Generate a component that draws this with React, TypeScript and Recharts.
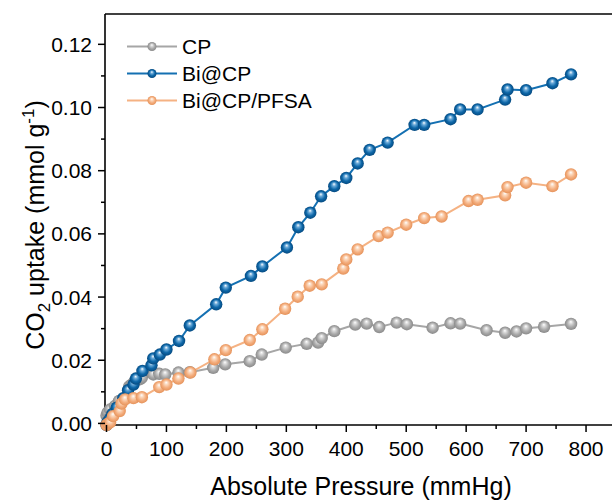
import React from "react";
import { LineChart, Line, XAxis, YAxis, Legend, ReferenceLine } from "recharts";

// pressure (mmHg) / uptake (mmol g-1)
const cpPressure = [0, 2, 6, 14, 21, 38, 42, 47, 56, 59, 78, 88, 98, 120, 139, 178, 198, 239, 259, 299, 334, 353, 359, 380, 415, 434, 455, 484, 501, 544, 574, 590, 634, 665, 684, 700, 730, 775];
const cpUptake = [0.0025, 0.0035, 0.0044, 0.0055, 0.0071, 0.0117, 0.0123, 0.0132, 0.014, 0.0145, 0.0155, 0.0157, 0.0155, 0.0161, 0.0162, 0.0176, 0.0187, 0.0197, 0.0218, 0.024, 0.0252, 0.0256, 0.027, 0.0292, 0.0313, 0.0316, 0.0305, 0.0319, 0.0314, 0.0303, 0.0317, 0.0316, 0.0295, 0.0287, 0.0291, 0.0301, 0.0306, 0.0315];

const biPressure = [0, 2, 6, 10, 17, 28, 36, 45, 49, 60, 75, 78, 89, 100, 121, 139, 183, 199, 241, 260, 301, 320, 340, 358, 380, 400, 419, 439, 469, 514, 530, 574, 590, 619, 665, 669, 700, 744, 775];
const biUptake = [-0.0005, 0.0005, 0.0015, 0.003, 0.005, 0.008, 0.0105, 0.0123, 0.0142, 0.0166, 0.0184, 0.0206, 0.0218, 0.0234, 0.0261, 0.031, 0.0377, 0.043, 0.0467, 0.0497, 0.0557, 0.0621, 0.0667, 0.0719, 0.0751, 0.0777, 0.0823, 0.0866, 0.0889, 0.0945, 0.0945, 0.0963, 0.0994, 0.0994, 0.1025, 0.1057, 0.1055, 0.1077, 0.1105];

const pfsaPressure = [0, 3, 6, 11, 22, 25, 31, 45, 59, 88, 100, 120, 140, 180, 199, 239, 260, 298, 319, 339, 359, 395, 400, 419, 454, 469, 500, 530, 559, 604, 619, 665, 669, 700, 744, 775];
const pfsaUptake = [-0.0005, 0, 0.0003, 0.0023, 0.0039, 0.0063, 0.0076, 0.008, 0.0083, 0.0115, 0.0123, 0.0142, 0.0161, 0.0203, 0.0232, 0.0264, 0.0298, 0.0363, 0.0401, 0.0436, 0.044, 0.049, 0.0519, 0.0551, 0.0593, 0.0604, 0.0629, 0.065, 0.0655, 0.0704, 0.0708, 0.0722, 0.0748, 0.0762, 0.0751, 0.0788];

const xTicks = [0, 50, 100, 150, 200, 250, 300, 350, 400, 450, 500, 550, 600, 650, 700, 750, 800];
const yTicks = [0, 0.01, 0.02, 0.03, 0.04, 0.05, 0.06, 0.07, 0.08, 0.09, 0.1, 0.11, 0.12];
const Y_TOP = 0.1296;

const FONT = "'Liberation Sans', Arial, sans-serif";

const toPoints = (xs: number[], ys: number[]) => xs.map((x, i) => ({ x, y: ys[i] }));

const series = [
  { name: "CP", data: toPoints(cpPressure, cpUptake), color: "#a6a6a6", grad: "ballGray" },
  { name: "Bi@CP", data: toPoints(biPressure, biUptake), color: "#1470b2", grad: "ballBlue" },
  { name: "Bi@CP/PFSA", data: toPoints(pfsaPressure, pfsaUptake), color: "#f5b283", grad: "ballOrange" },
];

const gradients = [
  { id: "ballGray", stops: ["#ffffff", "#d6d6d6", "#a8a8a8", "#8a8a8a"] },
  { id: "ballBlue", stops: ["#ffffff", "#6aa9d8", "#0d67a8", "#064a80"] },
  { id: "ballOrange", stops: ["#ffffff", "#fbd8bd", "#f4ae7e", "#e5925a"] },
];

const ball = (grad: string, r: number) => (props: any) => {
  const { cx, cy, index } = props;
  if (cx == null || cy == null) return <g key={index} />;
  return <circle key={index} cx={cx} cy={cy} r={r} fill={`url(#${grad})`} />;
};

const XTick = (props: any) => {
  const { x, y, payload } = props;
  const v = payload.value;
  const major = v % 100 === 0;
  return (
    <g>
      <line x1={x} x2={x} y1={y} y2={y + (major ? 7 : 4)} stroke="#000" strokeWidth={1.5} />
      {major && (
        <text x={x} y={y + 31} textAnchor="middle" fontSize={21} fontFamily={FONT} fill="#000">
          {v}
        </text>
      )}
    </g>
  );
};

const YTick = (props: any) => {
  const { x, y, payload } = props;
  const v = payload.value;
  const major = Math.round(v * 100) % 2 === 0;
  return (
    <g>
      <line x1={x - (major ? 7 : 4)} x2={x} y1={y} y2={y} stroke="#000" strokeWidth={1.5} />
      {major && (
        <text x={x - 13} y={y + 7.5} textAnchor="end" fontSize={21} fontFamily={FONT} fill="#000">
          {v.toFixed(2)}
        </text>
      )}
    </g>
  );
};

const renderLegend = () => (
  <div style={{ fontFamily: FONT, fontSize: 21, color: "#000" }}>
    {series.map((s) => (
      <div key={s.name} style={{ display: "flex", alignItems: "center", height: 27 }}>
        <svg width={56} height={27} style={{ display: "block" }}>
          <line x1={2} x2={52} y1={13.5} y2={13.5} stroke={s.color} strokeWidth={2} />
          <circle cx={27} cy={13.5} r={4.5} fill={`url(#${s.grad})`} />
        </svg>
        <span style={{ marginLeft: 1, lineHeight: "27px" }}>{s.name}</span>
      </div>
    ))}
  </div>
);

export default function App() {
  return (
    <div style={{ position: "absolute", left: 0, top: 0, width: 612, height: 503, background: "#fff" }}>
      <svg width={0} height={0} style={{ position: "absolute" }}>
        <defs>
          {gradients.map((g) => (
            <radialGradient key={g.id} id={g.id} cx="50%" cy="50%" r="50%" fx="48%" fy="32%">
              <stop offset="0%" stopColor={g.stops[0]} />
              <stop offset="28%" stopColor={g.stops[1]} />
              <stop offset="65%" stopColor={g.stops[2]} />
              <stop offset="100%" stopColor={g.stops[3]} />
            </radialGradient>
          ))}
        </defs>
      </svg>
      <LineChart width={612} height={503} margin={{ top: 14, right: 0, bottom: 0, left: 0 }}>
        <XAxis
          dataKey="x"
          type="number"
          domain={[-2.5, 843.3]}
          ticks={xTicks}
          interval={0}
          height={78}
          tickSize={0}
          tickMargin={0}
          tickLine={false}
          tick={<XTick />}
          axisLine={{ stroke: "#000", strokeWidth: 1.6 }}
        />
        <YAxis
          dataKey="y"
          type="number"
          domain={[-0.0005, Y_TOP]}
          ticks={yTicks}
          interval={0}
          width={105}
          tickSize={0}
          tickMargin={0}
          tickLine={false}
          tick={<YTick />}
          axisLine={{ stroke: "#000", strokeWidth: 1.6 }}
        />
        <ReferenceLine y={Y_TOP} stroke="#000" strokeWidth={1.6} />
        <Legend
          content={renderLegend}
          layout="horizontal"
          verticalAlign="middle"
          align="center"
          wrapperStyle={{ position: "absolute", top: 32.5, left: 125, width: 220, height: 81 }}
        />
        {series.map((s) => (
          <Line
            key={s.name}
            data={s.data}
            dataKey="y"
            name={s.name}
            type="linear"
            stroke={s.color}
            strokeWidth={2}
            dot={ball(s.grad, 6.2)}
            activeDot={false}
            isAnimationActive={false}
          />
        ))}
        <text x={361} y={495} textAnchor="middle" fontSize={25} fontFamily={FONT} fill="#000">
          Absolute Pressure (mmHg)
        </text>
        <text transform="translate(43.5,225) rotate(-90)" textAnchor="middle" fontSize={25} fontFamily={FONT} fill="#000">
          <tspan>CO</tspan>
          <tspan fontSize={17} dy={6}>2</tspan>
          <tspan dy={-6}> uptake (mmol g</tspan>
          <tspan fontSize={17} dy={-10}>-1</tspan>
          <tspan dy={10}>)</tspan>
        </text>
      </LineChart>
    </div>
  );
}
